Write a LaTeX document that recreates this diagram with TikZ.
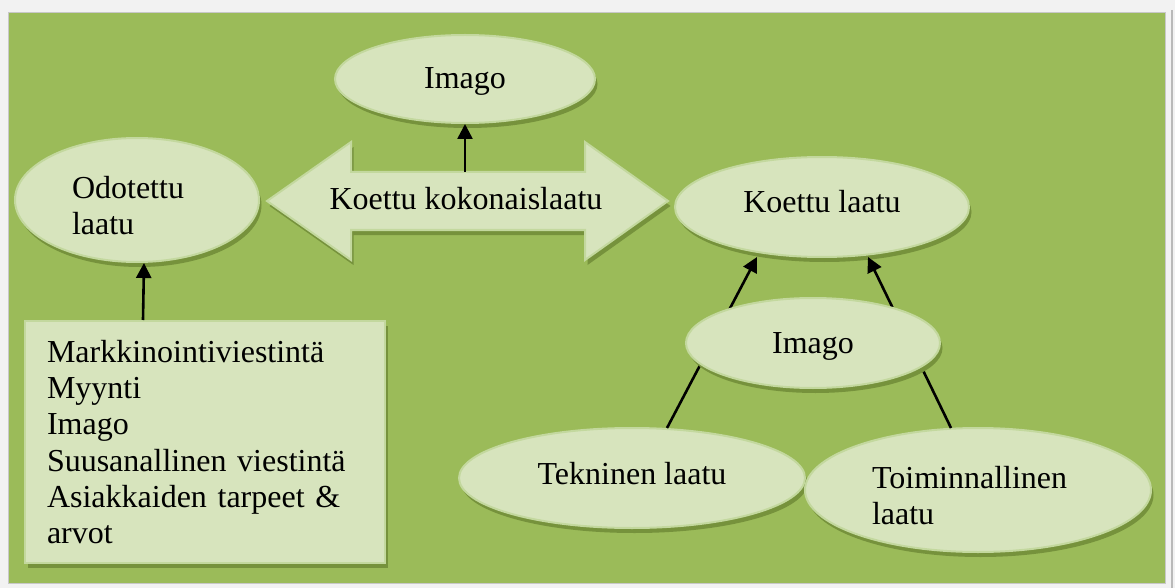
\documentclass[tikz,border=0pt]{standalone}
\usepackage{fontspec}
\setmainfont{Liberation Serif}
\usetikzlibrary{shapes.geometric,shadows,arrows.meta,calc}
\definecolor{bggreen}{HTML}{9BBB59}
\definecolor{shfill}{HTML}{D7E4BD}
\definecolor{shline}{HTML}{C3D89E}
\definecolor{shdark}{HTML}{76923C}
\definecolor{pagegray}{HTML}{F2F2F2}
\definecolor{edgegray}{HTML}{C8C8C8}
\begin{document}
\begin{tikzpicture}[x=1pt,y=-1pt,
  shp/.style={fill=shfill, draw=shline, line width=2pt,
    drop shadow={shadow xshift=2.5pt, shadow yshift=-5pt, fill=shdark, opacity=1}},
  ell/.style={shp, ellipse, inner sep=0pt},
  txt/.style={font=\fontsize{32}{36.3}\selectfont, text=black},
  oneline/.style={text height=21pt, text depth=9pt},
  onelow/.style={text height=24pt, text depth=4pt},
  arr/.style={line width=2.6pt, -{Triangle[length=15pt,width=15pt]}}]
\fill[pagegray] (0,0) rectangle (1175,588);
\useasboundingbox (0,0) rectangle (1175,588);
\draw[fill=bggreen, draw=edgegray, line width=1pt] (8,13) rectangle (1165,583);
\draw[edgegray!80!gray, line width=2pt] (1172,10) -- (1172,588);

% top Imago
\node[ell, txt, onelow, minimum width=260pt, minimum height=88pt] (imagoT) at (465,79) {Imago};
% Odotettu laatu
\node[ell, txt, minimum width=244pt, minimum height=124pt, text width=130pt, align=left] (odot) at (137,200) {\rule{0pt}{33pt}Odotettu\\laatu};
% Koettu laatu
\node[ell, txt, oneline, minimum width=294pt, minimum height=100pt] (koettu) at (822,207) {Koettu laatu};

% double arrow
\filldraw[shp] (267,201) -- (351,142) -- (351,172) -- (585,172) -- (585,142) -- (668,201)
  -- (585,260) -- (585,230) -- (351,230) -- (351,260) -- cycle;
\node[txt, oneline] (kok) at (466,204) {Koettu kokonaislaatu};
\coordinate (shafttop) at (465,172);
\draw[arr] (shafttop) -- (imagoT.south);

% box
\node[shp, txt, rectangle, minimum width=360pt, minimum height=242pt, text width=316pt,
  align=left, inner sep=0pt] (box) at (205,442)
  {Markkinointiviestintä\\Myynti\\Imago\\Suusanallinen viestintä\\Asiakkaiden tarpeet \&\\arvot};
\draw[arr] ($(box.north west)+(119,0)$) -- ($(odot.south)+(7,0)$);

% bottom ellipses
\node[ell, txt, oneline, minimum width=346pt, minimum height=100pt] (tek) at (632,478) {Tekninen laatu};
\node[ell, txt, minimum width=346pt, minimum height=124pt, text width=212pt, align=left] (toim) at (978,490) {\rule{0pt}{33pt}Toiminnallinen\\laatu};

\draw[arr] ($(tek.center)+(35,-50)$) -- ($(koettu.center)+(-65,50)$);
\draw[arr] ($(toim.center)+(-27,-62)$) -- ($(koettu.center)+(46,50)$);

% middle Imago
\node[ell, txt, onelow, minimum width=254pt, minimum height=90pt] (imagoM) at (813,343) {Imago};
\end{tikzpicture}
\end{document}
